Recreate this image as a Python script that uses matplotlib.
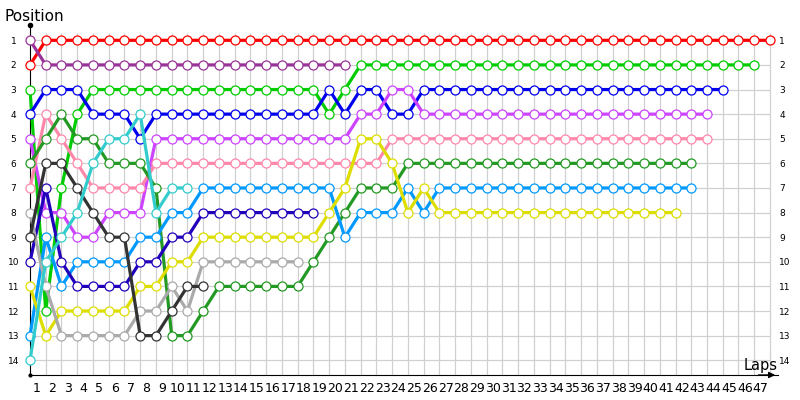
import matplotlib
matplotlib.use('Agg')
import matplotlib.pyplot as plt
import numpy as np

# positions per lap, every series starts at lap 0
red = [2] + [1] * 47
purple = [1] + [2] * 20
green = [3, 12, 7, 4] + [3] * 15 + [4, 3] + [2] * 26
blue = [4, 3, 3, 3, 4, 4, 4, 5] + [4] * 11 + [3, 4, 3, 3, 4, 4] + [3] * 20
violet = [5, 8, 8, 9, 9, 8, 8, 8] + [5] * 13 + [4, 4, 3, 3] + [4] * 19
pink = [7, 4, 5, 6, 7, 7, 7, 7] + [6] * 15 + [5] * 21
dark_green = [6, 5, 4, 5, 5, 6, 6, 6, 7, 13, 13, 12] + [11] * 6 + [10, 9, 8, 7, 7, 7] + [6] * 19
cyan = [14, 10, 9, 8, 6, 5, 5, 4, 8, 7, 7]
light_blue = [13, 9, 11, 10, 10, 10, 10, 9, 9, 8, 8] + [7] * 9 + [9, 8, 8, 8, 7, 8] + [7] * 17
yellow = [11, 13, 12, 12, 12, 12, 12, 11, 11, 10, 10] + [9] * 8 + [8, 7, 5, 5, 6, 8, 7] + [8] * 16
navy = [10, 7, 10, 11, 11, 11, 11, 10, 10, 9, 9] + [8] * 8
dark_gray = [9, 6, 6, 7, 8, 9, 9, 13, 13, 12, 11, 11]
gray = [8, 11, 13, 13, 13, 13, 13, 12, 12, 11, 12] + [10] * 7

# drawn in classification order, later ones end up on top
series = [
    (red, '#ff0000'),
    (green, '#00cc00'),
    (blue, '#0000ee'),
    (violet, '#cc44ff'),
    (pink, '#ff88aa'),
    (dark_green, '#229922'),
    (light_blue, '#0099ff'),
    (yellow, '#dddd00'),
    (purple, '#993399'),
    (navy, '#2200bb'),
    (gray, '#aaaaaa'),
    (dark_gray, '#333333'),
    (cyan, '#33cccc'),
]

n_laps = 47
n_pos = 14
lap_ticks = np.arange(1, n_laps + 1)
pos_ticks = np.arange(1, n_pos + 1)

fig = plt.figure(figsize=(8, 4), dpi=100)
ax = fig.add_axes([30 / 800, 25 / 400, 748 / 800, 350 / 400])
ax.set_xlim(0, 47.51)
ax.set_ylim(14.6, 0.378)

# grid
ax.hlines(pos_ticks, 0, n_laps, color='#d0d0d0', lw=0.9, zorder=0)
ax.vlines(lap_ticks, 0.7, 14.6, color='#d0d0d0', lw=0.9, zorder=0)

for values, color in series:
    laps = np.arange(len(values))
    ax.plot(laps, values, color=color, lw=2.3, marker='o', markersize=6.5,
            markerfacecolor='white', markeredgecolor=color, markeredgewidth=0.9,
            clip_on=False, zorder=3)

# axes lines, arrow and dots
for side in ['top', 'right']:
    ax.spines[side].set_visible(False)
ax.spines['left'].set_color('black')
ax.spines['bottom'].set_color('black')
ax.annotate('', xy=(1.0, 0), xytext=(0.97, 0), xycoords='axes fraction',
            arrowprops=dict(arrowstyle='-|>', color='black', lw=1, mutation_scale=9))
ax.plot([0], [1], 'o', color='black', markersize=3, transform=ax.transAxes, clip_on=False)
ax.plot([0], [0], 'o', color='black', markersize=2, transform=ax.transAxes, clip_on=False)

# lap labels sit a bit left of their gridline
ax.set_xticks(lap_ticks - 0.6)
ax.set_xticklabels([str(i) for i in lap_ticks], fontsize=9)
ax.tick_params(axis='x', length=0, pad=5)

ax.set_yticks(pos_ticks)
ax.set_yticklabels([str(i) for i in pos_ticks], fontsize=6.5)
ax.tick_params(axis='y', length=0, pad=12)
for tick in ax.yaxis.get_major_ticks():
    tick.label1.set_horizontalalignment('center')

# right side position labels
ax2 = ax.twinx()
ax2.set_ylim(ax.get_ylim())
ax2.set_yticks(pos_ticks)
ax2.set_yticklabels([str(i) for i in pos_ticks], fontsize=6.5)
ax2.tick_params(axis='y', length=0, pad=1)
for side in ['top', 'right', 'left', 'bottom']:
    ax2.spines[side].set_visible(False)

fig.text(4 / 800, 1 - 21 / 400, 'Position', fontsize=11, ha='left', va='baseline')
fig.text(744 / 800, 1 - 370 / 400, 'Laps', fontsize=10.5, ha='left', va='baseline')

fig.savefig('out.png', dpi=100)
